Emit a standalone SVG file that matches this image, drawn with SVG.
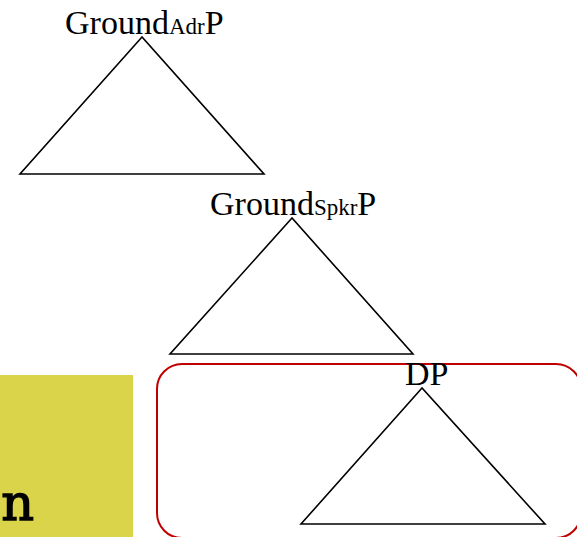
<svg xmlns="http://www.w3.org/2000/svg" width="577" height="537" viewBox="0 0 577 537">
<style>
.tri{fill:none;stroke:#000;stroke-width:1.6;stroke-linejoin:miter}
.lbl{font-family:"Liberation Serif","Times New Roman",serif;font-size:34px;fill:#000}
.sub{font-size:23px}
.mono{font-family:"DejaVu Serif",serif;font-size:51px;fill:#000;stroke:#000;stroke-width:1.4}
</style>
<rect width="577" height="537" fill="#fff"/>
<g id="panel">
<rect x="0" y="375" width="133" height="162" fill="#d9d44a"/>
<text class="mono" x="34" y="520" text-anchor="end">n</text>
</g>
<g id="highlight">
<rect x="157" y="364" width="424" height="174" rx="25" ry="25" fill="none" stroke="#c00000" stroke-width="2"/>
</g>
<g id="node-adr">
<polygon class="tri" points="142,37 20,174 264,174"/>
<text class="lbl" x="65" y="34">Ground<tspan class="sub">Adr</tspan>P</text>
</g>
<g id="node-spkr">
<polygon class="tri" points="292,218 170,354 413,354"/>
<text class="lbl" x="210" y="215">Ground<tspan class="sub">Spkr</tspan>P</text>
</g>
<g id="node-dp">
<polygon class="tri" points="422,388 301,524 545,524"/>
<text class="lbl" x="405" y="385">DP</text>
</g>
<g id="connectors"></g>
</svg>
